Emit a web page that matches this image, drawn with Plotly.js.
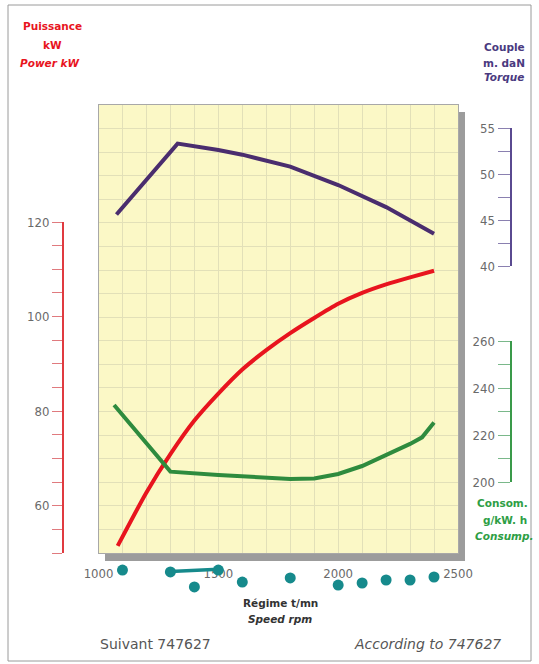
<!DOCTYPE html>
<html>
<head>
<meta charset="utf-8">
<script src="https://cdn.plot.ly/plotly-3.0.1.min.js"></script>
<style>html,body{margin:0;padding:0;background:#fff;}#chart{width:539px;height:664px;}</style>
</head>
<body>
<div id="chart"></div>
<script>
// ---- data ----
const rpmTorque = [1075, 1330, 1500, 1600, 1800, 2000, 2200, 2400];
const torque    = [45.6, 53.3, 52.6, 52.1, 50.8, 48.8, 46.4, 43.5];

const rpmPower = [1080, 1200, 1300, 1400, 1500, 1600, 1700, 1800, 1900, 2000, 2100, 2200, 2300, 2400];
const power    = [51.5, 62.8, 70.9, 78.0, 83.7, 88.8, 92.9, 96.5, 99.7, 102.7, 105.0, 106.8, 108.3, 109.7];

const rpmConsum = [1065, 1300, 1500, 1800, 1900, 2000, 2100, 2200, 2300, 2350, 2400];
const consum    = [232.8, 204.4, 203.0, 201.3, 201.5, 203.4, 206.8, 211.4, 216.2, 219.0, 225.3];

// hand-made teal marks below the speed axis
const markRpm = [1100, 1300, 1400, 1500, 1600, 1800, 2000, 2100, 2200, 2300, 2400];
const markRow = [0.83, 0.77, 0.27, 0.83, 0.43, 0.57, 0.33, 0.40, 0.50, 0.50, 0.60];
const strokeRpm = [1300, 1500];
const strokeRow = [0.78, 0.86];

const speedTicks = [1000, 1500, 2000, 2500];
const powerTicks = [50, 55, 60, 65, 70, 75, 80, 85, 90, 95, 100, 105, 110, 115, 120];
const powerLabels = ['', '', '60', '', '', '', '80', '', '', '', '100', '', '', '', '120'];
const torqueTicks = [40, 42.5, 45, 47.5, 50, 52.5, 55];
const torqueLabels = ['40', '', '45', '', '50', '', '55'];
const consumTicks = [200, 210, 220, 230, 240, 250, 260];
const consumLabels = ['200', '', '220', '', '240', '', '260'];

// ---- geometry helpers (pixel -> paper) ----
const W = 539, H = 664;
const px = v => v / W;
const py = v => 1 - v / H;

const RED = '#e8141e', PURPLE = '#4a2d6e', GREEN = '#2e8b3e';
const GRID = '#e2e0b8';
const tickFont = {family: 'Liberation Sans Narrow, DejaVu Sans Condensed, Liberation Sans, sans-serif', size: 13, color: '#6a6a6a'};
const titleFamily = 'DejaVu Sans, Verdana, sans-serif';

const traces = [
  {x: rpmPower, y: power, xaxis: 'x2', yaxis: 'y2', type: 'scatter', mode: 'lines',
   line: {color: RED, width: 4, shape: 'spline', smoothing: 0.6}, hoverinfo: 'skip'},
  {x: rpmTorque, y: torque, xaxis: 'x2', yaxis: 'y3', type: 'scatter', mode: 'lines',
   line: {color: PURPLE, width: 4}, hoverinfo: 'skip'},
  {x: rpmConsum, y: consum, xaxis: 'x2', yaxis: 'y4', type: 'scatter', mode: 'lines',
   line: {color: GREEN, width: 4}, hoverinfo: 'skip'},
  {x: strokeRpm, y: strokeRow, xaxis: 'x3', yaxis: 'y5', type: 'scatter', mode: 'lines',
   line: {color: '#168a8c', width: 3.5}, hoverinfo: 'skip', cliponaxis: false},
  {x: markRpm, y: markRow, xaxis: 'x3', yaxis: 'y5', type: 'scatter', mode: 'markers',
   marker: {color: '#168a8c', size: 11}, hoverinfo: 'skip', cliponaxis: false},
  {x: [], y: [], xaxis: 'x', yaxis: 'y', type: 'scatter', mode: 'lines', hoverinfo: 'skip'}
];

const xDomain = [px(98.5), px(458)];
const layout = {
  width: W, height: H,
  margin: {l: 0, r: 0, t: 0, b: 0},
  paper_bgcolor: '#ffffff',
  plot_bgcolor: 'rgba(0,0,0,0)',
  showlegend: false,
  xaxis: {
    domain: xDomain, range: [1000, 2500], anchor: 'y',
    tickvals: speedTicks, ticktext: speedTicks.map(String),
    ticks: 'outside', ticklen: 8, tickcolor: 'rgba(0,0,0,0)',
    tickfont: tickFont,
    showgrid: true, gridcolor: GRID, gridwidth: 1,
    minor: {dtick: 100, showgrid: true, gridcolor: GRID, gridwidth: 1, ticks: ''},
    showline: true, linecolor: '#a8a8a8', linewidth: 1, mirror: true,
    zeroline: false, fixedrange: true
  },
  yaxis: {
    domain: [py(553), py(105)], range: [50, 145], anchor: 'x',
    dtick: 5, showticklabels: false, ticks: '',
    showgrid: true, gridcolor: GRID, gridwidth: 1,
    showline: true, linecolor: '#a8a8a8', linewidth: 1, mirror: true,
    zeroline: false, fixedrange: true
  },
  xaxis2: {domain: xDomain, range: [1000, 2500], visible: false, anchor: 'y2', fixedrange: true},
  xaxis3: {domain: xDomain, range: [1000, 2500], visible: false, anchor: 'y5', fixedrange: true},
  yaxis2: {
    domain: [py(553), py(222)], range: [50, 120], anchor: 'free', position: px(63), side: 'left',
    tickvals: powerTicks, ticktext: powerLabels, ticks: 'outside', ticklen: 10,
    tickcolor: '#e07a7e', tickwidth: 1, tickfont: tickFont,
    showline: true, linecolor: '#e03a40', linewidth: 2,
    showgrid: false, zeroline: false, fixedrange: true
  },
  yaxis3: {
    domain: [py(266), py(128)], range: [40, 55], anchor: 'free', position: px(510.5), side: 'left',
    tickvals: torqueTicks, ticktext: torqueLabels, ticks: 'outside', ticklen: 12,
    tickcolor: '#8a80b0', tickwidth: 1, tickfont: tickFont,
    showline: true, linecolor: '#5a4a90', linewidth: 2,
    showgrid: false, zeroline: false, fixedrange: true
  },
  yaxis4: {
    domain: [py(482), py(341)], range: [200, 260], anchor: 'free', position: px(510.5), side: 'left',
    tickvals: consumTicks, ticktext: consumLabels, ticks: 'outside', ticklen: 12,
    tickcolor: '#7ab88a', tickwidth: 1, tickfont: tickFont,
    showline: true, linecolor: '#3a9a4a', linewidth: 2,
    showgrid: false, zeroline: false, fixedrange: true
  },
  yaxis5: {domain: [py(595), py(565)], range: [0, 1], visible: false, anchor: 'x3', fixedrange: true},
  shapes: [
    // outer frame
    {type: 'rect', xref: 'paper', yref: 'paper', x0: px(8), x1: px(531), y0: py(661), y1: py(5),
     line: {color: '#9a9a9a', width: 1}, fillcolor: 'rgba(0,0,0,0)', layer: 'below'},
    // drop shadow
    {type: 'rect', xref: 'paper', yref: 'paper', x0: px(458), x1: px(465), y0: py(561), y1: py(112),
     line: {width: 0}, fillcolor: '#9c9c9c', layer: 'below'},
    {type: 'rect', xref: 'paper', yref: 'paper', x0: px(105), x1: px(465), y0: py(561), y1: py(553),
     line: {width: 0}, fillcolor: '#9c9c9c', layer: 'below'},
    // yellow chart paper
    {type: 'rect', xref: 'paper', yref: 'paper', x0: xDomain[0], x1: xDomain[1], y0: py(553), y1: py(105),
     line: {width: 0}, fillcolor: '#fbf8c6', layer: 'below'}
  ],
  annotations: [
    {text: '<b>Puissance</b>', x: px(52), y: py(26), color: RED},
    {text: '<b>kW</b>', x: px(52), y: py(45), color: RED},
    {text: '<b><i>Power kW</i></b>', x: px(50), y: py(63), color: RED},
    {text: '<b>Couple</b>', x: px(504), y: py(47), color: '#4a3a80'},
    {text: '<b>m. daN</b>', x: px(504), y: py(63), color: '#4a3a80'},
    {text: '<b><i>Torque</i></b>', x: px(504), y: py(77), color: '#4a3a80'},
    {text: '<b>Consom.</b>', x: px(503), y: py(503), color: '#2e9e45'},
    {text: '<b>g/kW. h</b>', x: px(505), y: py(520), color: '#2e9e45'},
    {text: '<b><i>Consump.</i></b>', x: px(504), y: py(536), color: '#2e9e45'},
    {text: '<b>Régime t/mn</b>', x: px(280), y: py(603), color: '#333333'},
    {text: '<b><i>Speed rpm</i></b>', x: px(280), y: py(619), color: '#333333'},
    {text: 'Suivant 747627', x: px(155), y: py(644), color: '#555555', size: 14},
    {text: '<i>According to 747627</i>', x: px(427), y: py(644), color: '#555555', size: 14}
  ].map(a => ({
    text: a.text, x: a.x, y: a.y, xref: 'paper', yref: 'paper',
    xanchor: 'center', yanchor: 'middle', showarrow: false,
    font: {family: titleFamily, size: a.size || 10.5, color: a.color}
  }))
};

Plotly.newPlot('chart', traces, layout, {displayModeBar: false, staticPlot: true});
</script>
</body>
</html>
